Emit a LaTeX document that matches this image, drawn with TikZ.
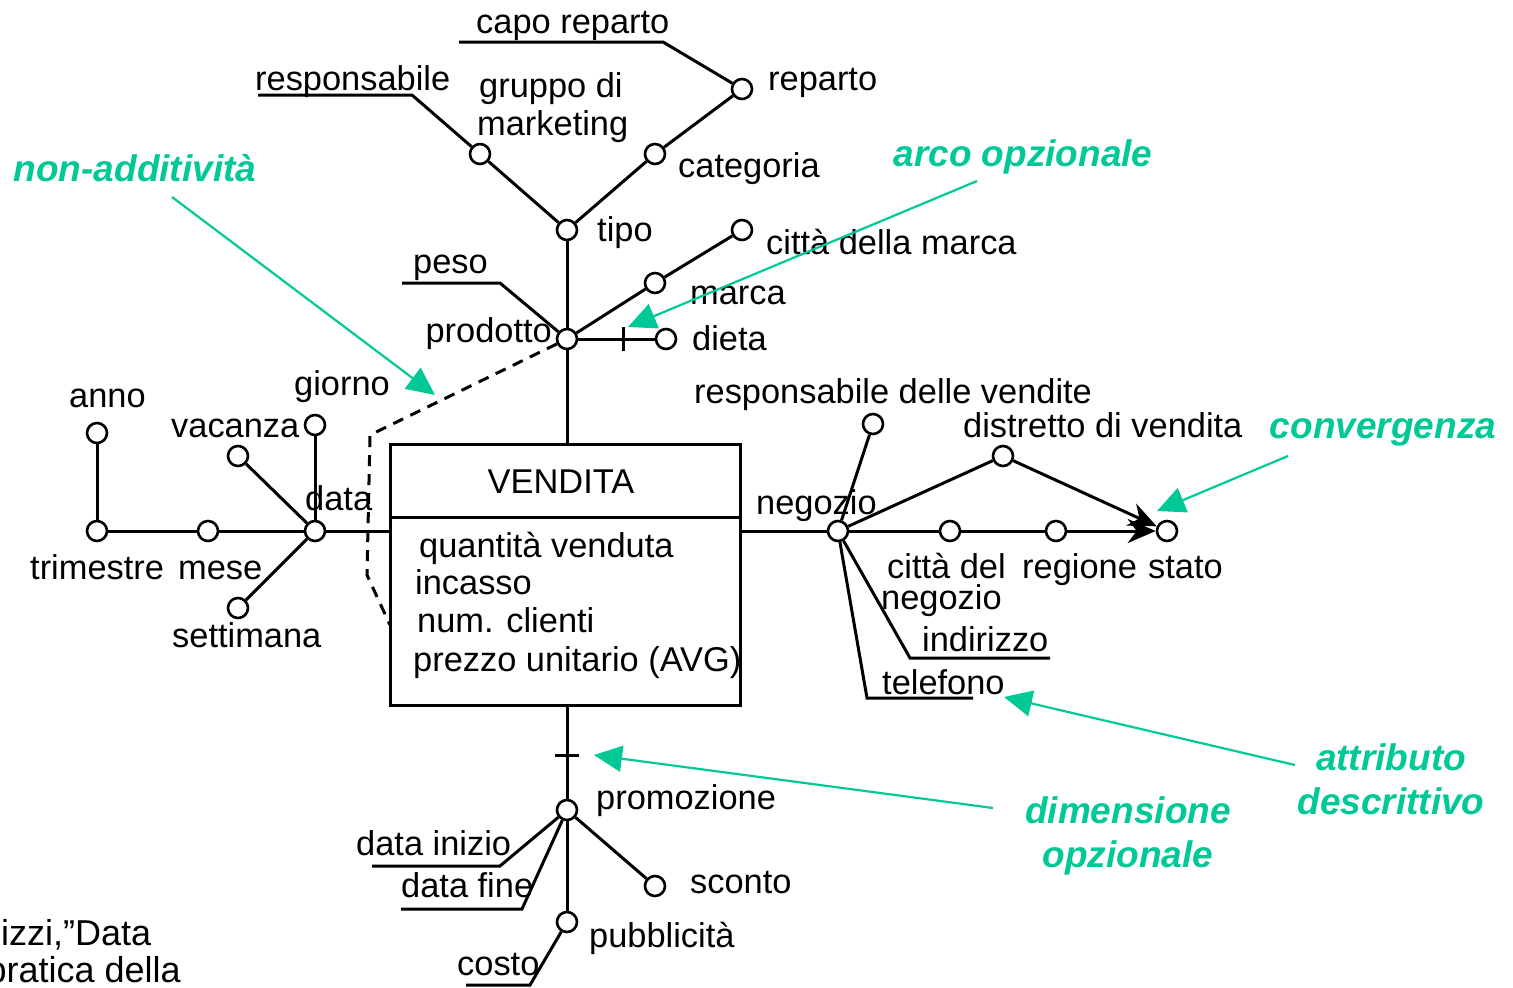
\documentclass[tikz,border=0pt]{standalone}
\usepackage{fontspec}
\setmainfont{Liberation Sans}
\usetikzlibrary{arrows.meta}
\definecolor{ann}{RGB}{0,200,150}
\begin{document}
\begin{tikzpicture}[x=1pt,y=-1pt,
  attr/.style={circle,draw,line width=2.6pt,minimum size=20pt,inner sep=0pt,fill=white},
  lbl/.style={font=\fontsize{34.4}{38}\selectfont,inner sep=0pt,anchor=base west},
  lble/.style={font=\fontsize{34.4}{38}\selectfont,inner sep=0pt,anchor=base east},
  lblc/.style={font=\fontsize{34.4}{38}\selectfont,inner sep=0pt,anchor=base},
  cite/.style={font=\fontsize{36}{40}\selectfont,inner sep=0pt},
  note/.style={font=\fontsize{37}{44}\selectfont\bfseries\itshape,text=ann,inner sep=0pt,anchor=base},
  edge/.style={line width=3pt},
  narrow/.style={line width=2.2pt,draw=ann,-{Triangle[length=28pt,width=26pt]}},
  conv/.style={line width=3pt,-{Stealth[length=28pt,width=24pt,inset=9pt]}}
]
\useasboundingbox (0,0) rectangle (1513,988);

% fact box
\node[draw,line width=3pt,minimum width=350pt,minimum height=261pt,inner sep=0pt] (vendita) at (565,574.5) {};
\draw[edge] ([yshift=-75pt]vendita.north west) -- ([yshift=-75pt]vendita.north east);
\node[lblc] (tvendita) at (561,493) {VENDITA};
\node[lbl] (tq) at (419,557) {quantità venduta};
\node[lbl] (ti) at (415,594) {incasso};
\node[lbl] (tn) at (417,632) {num. clienti};
\node[lbl] (tp) at (413,671) {prezzo unitario (AVG)};

% attribute circles
\node[attr] (reparto) at (742,89) {};
\node[attr] (gruppo) at (480,154) {};
\node[attr] (categoria) at (655,154) {};
\node[attr] (tipo) at (567,230) {};
\node[attr] (cittamarca) at (742,230) {};
\node[attr] (marca) at (655,283) {};
\node[attr] (prodotto) at (567,339) {};
\node[attr] (dieta) at (666,339) {};
\node[attr] (giorno) at (315,425) {};
\node[attr] (vacanza) at (238,456) {};
\node[attr] (anno) at (97,433) {};
\node[attr] (trimestre) at (97,531) {};
\node[attr] (mese) at (208,531) {};
\node[attr] (data) at (315,531) {};
\node[attr] (settimana) at (238,608) {};
\node[attr] (respvend) at (873,424) {};
\node[attr] (distretto) at (1003,456) {};
\node[attr] (negozio) at (838,531) {};
\node[attr] (cittaneg) at (950,531) {};
\node[attr] (regione) at (1056,531) {};
\node[attr] (stato) at (1167,531) {};
\node[attr] (promozione) at (567,810) {};
\node[attr] (sconto) at (655,886) {};
\node[attr] (pubblicita) at (567,922) {};

% helper coordinates
\coordinate (capoL) at (459,42);
\coordinate (capoR) at (663,42);
\coordinate (respL) at (258,95);
\coordinate (respR) at (412,95);
\coordinate (pesoL) at (402,283);
\coordinate (pesoR) at (500,283);
\coordinate (dtick) at (623,339);
\coordinate (dA) at (370,435);
\coordinate (dB) at (367,575);
\coordinate (dC) at (390,625);
\coordinate (indL) at (910,658);
\coordinate (indR) at (1050,658);
\coordinate (telL) at (867,698);
\coordinate (telR) at (973,698);
\coordinate (ptick) at (567,755);
\coordinate (diL) at (372,866);
\coordinate (diR) at (500,866);
\coordinate (dfL) at (401,909);
\coordinate (dfR) at (522,909);
\coordinate (coL) at (466,985);
\coordinate (coR) at (530,985);

% product hierarchy
\draw[edge] (capoL) -- (capoR) -- (reparto);
\draw[edge] (respL) -- (respR) -- (gruppo);
\draw[edge] (reparto) -- (categoria) -- (tipo) -- (gruppo);
\draw[edge] (tipo) -- (prodotto);
\draw[edge] (prodotto) -- (marca) -- (cittamarca);
\draw[edge] (pesoL) -- (pesoR) -- (prodotto);
\draw[edge] (prodotto) -- (dieta);
\draw[edge] ([yshift=12pt]dtick) -- ([yshift=-12pt]dtick);
\draw[edge] (prodotto) -- (prodotto |- vendita.north);
\draw[edge,dash pattern=on 11pt off 8pt] (prodotto) -- (dA) -- (dB) -- (dC);

% date hierarchy
\draw[edge] (anno) -- (trimestre) -- (mese) -- (data);
\draw[edge] (data) -- (data -| vendita.west);
\draw[edge] (giorno) -- (data);
\draw[edge] (vacanza) -- (data);
\draw[edge] (settimana) -- (data);

% store hierarchy
\draw[edge] (vendita.east |- negozio) -- (negozio);
\draw[edge] (negozio) -- (respvend);
\draw[edge] (negozio) -- (distretto);
\draw[conv] (distretto) -- (stato);
\draw[edge] (negozio) -- (cittaneg) -- (regione);
\draw[conv] (regione) -- (stato);
\draw[edge] (negozio) -- (indL) -- (indR);
\draw[edge] (negozio) -- (telL) -- (telR);

% promotion hierarchy
\draw[edge] (vendita.south -| promozione) -- (promozione);
\draw[edge] ([xshift=-12pt]ptick) -- ([xshift=12pt]ptick);
\draw[edge] (diL) -- (diR) -- (promozione);
\draw[edge] (dfL) -- (dfR) -- (promozione);
\draw[edge] (promozione) -- (sconto);
\draw[edge] (promozione) -- (pubblicita);
\draw[edge] (coL) -- (coR) -- (pubblicita);

% labels
\node[lbl] (tcapo) at (476,33) {capo reparto};
\node[lbl] (tresp) at (255,90) {responsabile};
\node[lbl] (treparto) at (768,90) {reparto};
\node[lbl] (tgruppo1) at (479,97) {gruppo di};
\node[lbl] (tgruppo2) at (477,135) {marketing};
\node[lbl] (tcategoria) at (678,177) {categoria};
\node[lbl] (ttipo) at (597,241) {tipo};
\node[lbl] (tcittamarca) at (766,254) {città della marca};
\node[lbl] (tpeso) at (413,273) {peso};
\node[lbl] (tmarca) at (690,304) {marca};
\node[lble] (tprodotto) at (552,342) {prodotto};
\node[lbl] (tdieta) at (692,350) {dieta};
\node[lbl] (tanno) at (69,407) {anno};
\node[lbl] (tgiorno) at (294,395) {giorno};
\node[lbl] (tvacanza) at (171,437) {vacanza};
\node[lbl] (tdata) at (305,510) {data};
\node[lbl] (ttrimestre) at (30,579) {trimestre};
\node[lbl] (tmese) at (178,579) {mese};
\node[lbl] (tsettimana) at (172,647) {settimana};
\node[lbl] (tnegozio) at (756,514) {negozio};
\node[lbl] (trespvend) at (694,403) {responsabile delle vendite};
\node[lbl] (tdistretto) at (963,437) {distretto di vendita};
\node[lbl] (tcittaneg1) at (887,578) {città del};
\node[lbl] (tcittaneg2) at (881,609) {negozio};
\node[lbl] (tregione) at (1022,578) {regione};
\node[lbl] (tstato) at (1148,578) {stato};
\node[lbl] (tindirizzo) at (922,651) {indirizzo};
\node[lbl] (ttelefono) at (882,694) {telefono};
\node[lbl] (tpromozione) at (596,809) {promozione};
\node[lbl] (tdatainizio) at (356,855) {data inizio};
\node[lbl] (tdatafine) at (401,897) {data fine};
\node[lbl] (tsconto) at (690,893) {sconto};
\node[lbl] (tpubblicita) at (589,947) {pubblicità};
\node[lbl] (tcosto) at (457,975) {costo};
\node[cite,anchor=base west] (tcit1) at (1,945) {izzi,”Data};
\node[cite,anchor=base east] (tcit2) at (181,982) {pratica della};

% annotations
\node[note] (nnonadd) at (135,181) {non-additività};
\node[note] (narco) at (1023,166) {arco opzionale};
\node[note] (nconv) at (1383,438) {convergenza};
\node[note] (nattr1) at (1391,770) {attributo};
\node[note] (nattr2) at (1391,814) {descrittivo};
\node[note] (ndim1) at (1128,823) {dimensione};
\node[note] (ndim2) at (1128,867) {opzionale};

\coordinate (aNA) at (172,197);
\coordinate (aNAe) at (435,395);
\coordinate (aAR) at (977,181);
\coordinate (aARe) at (628,327);
\coordinate (aCO) at (1288,456);
\coordinate (aCOe) at (1157,511);
\coordinate (aAT) at (1295,765);
\coordinate (aATe) at (1004,697);
\coordinate (aDI) at (993,808);
\coordinate (aDIe) at (594,755);
\draw[narrow] (aNA) -- (aNAe);
\draw[narrow] (aAR) -- (aARe);
\draw[narrow] (aCO) -- (aCOe);
\draw[narrow] (aAT) -- (aATe);
\draw[narrow] (aDI) -- (aDIe);
\end{tikzpicture}
\end{document}
